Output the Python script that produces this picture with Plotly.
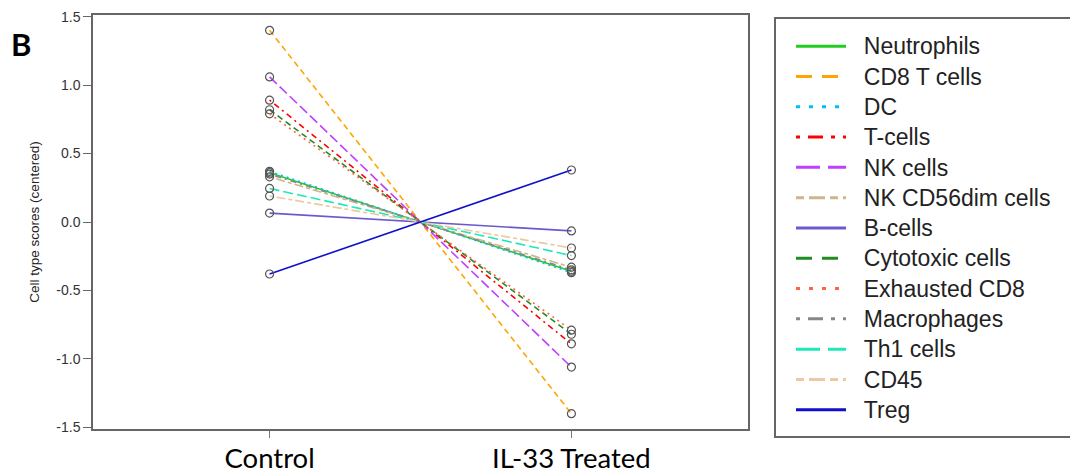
import plotly.graph_objects as go

groups = ["Control", "IL-33 Treated"]
cell_types = ["Neutrophils", "CD8 T cells", "DC", "T-cells", "NK cells",
              "NK CD56dim cells", "B-cells", "Cytotoxic cells", "Exhausted CD8",
              "Macrophages", "Th1 cells", "CD45", "Treg"]
control_scores = [0.36, 1.40, 0.37, 0.89, 1.06, 0.33, 0.065, 0.82, 0.79, 0.35, 0.245, 0.19, -0.38]
treated_scores = [-0.36, -1.40, -0.37, -0.89, -1.06, -0.33, -0.065, -0.82, -0.79, -0.35, -0.245, -0.19, 0.38]
y_ticks = [-1.5, -1.0, -0.5, 0.0, 0.5, 1.0, 1.5]
y_tick_labels = ["-1.5", "-1.0", "-0.5", "0.0", "0.5", "1.0", "1.5"]

colors = ["#22CC22", "#FFA500", "#00BFFF", "#FF0000", "#BF3EFF", "#D2B48C",
          "#6A5ACD", "#228B22", "#FF6347", "#888888", "#1DE9B6", "#EEC9A0", "#1010CC"]
# R lty cycle: solid, dashed, dotted, dotdash, longdash, twodash
plot_dash_cycle = ["solid", "6px,4px", "2px,4px", "2px,4px,6px,4px", "10px,4px", "4px,3px,9px,3px"]
legend_dash_cycle = ["solid", "16px,10px", "4px,9px", "4px,8px,15px,8px", "24px,8px", "8px,5px,16px,5px"]

fig = go.Figure()

for i, name in enumerate(cell_types):
    fig.add_trace(go.Scatter(
        x=groups, y=[control_scores[i], treated_scores[i]],
        mode="lines+markers", showlegend=False, name=name,
        line=dict(color=colors[i], width=1.6, dash=plot_dash_cycle[i % 6]),
        marker=dict(symbol="circle-open", size=8, color="#555555", line=dict(width=1.2)),
    ))

nb = "\u00a0\u00a0"
for i, name in enumerate(cell_types):
    fig.add_trace(go.Scatter(
        x=[None], y=[None], mode="lines", showlegend=True,
        name='<span style="font-size:23px">' + nb + name + "</span>",
        line=dict(color=colors[i], width=3, dash=legend_dash_cycle[i % 6]),
    ))

# page body has an 8px margin; build the figure in page coordinates minus 8
OFF = 8
W, H = 1078 - OFF, 476 - OFF
L, R, T, B = 85, 330, 7, 47
pw, ph = W - L - R, H - T - B

def fx(p):
    return (p - OFF - L) / pw

def fy(p):
    return (H - B - (p - OFF)) / ph

fig.add_shape(type="rect", xref="paper", yref="paper",
              x0=fx(775), x1=fx(1075), y0=fy(437), y1=fy(18),
              line=dict(color="#666666", width=2), fillcolor="rgba(0,0,0,0)")

fig.add_annotation(text="<b>B</b>", xref="paper", yref="paper",
                   x=fx(21), y=fy(44), xanchor="center", yanchor="middle", showarrow=False,
                   font=dict(family="Lato", size=31, color="#000000"))

fig.update_layout(
    width=W, height=H,
    margin=dict(l=L, r=R, t=T, b=B, autoexpand=False),
    paper_bgcolor="white", plot_bgcolor="white",
    showlegend=True,
    legend=dict(x=fx(791), y=fy(26), xanchor="left", yanchor="top",
                font=dict(family="Liberation Sans", size=21, color="#222222"),
                bgcolor="rgba(0,0,0,0)", borderwidth=0, itemwidth=50,
                tracegroupgap=0, maxheight=470),
    xaxis=dict(range=[-0.585, 1.585], showgrid=False, zeroline=False, automargin=False,
               showline=True, mirror=True, linecolor="#666666", linewidth=1.5,
               ticks="outside", ticklen=7, tickcolor="#777777", tickwidth=1.2,
               tickfont=dict(family="Lato", size=27.5, color="#000000"),
               ticklabelstandoff=-3),
    yaxis=dict(range=[-1.512, 1.512], showgrid=False, zeroline=False, automargin=False,
               showline=True, mirror=True, linecolor="#666666", linewidth=1.5,
               ticks="outside", ticklen=8, tickcolor="#666666", tickwidth=1.2,
               tickvals=y_ticks, ticktext=y_tick_labels,
               tickfont=dict(family="Liberation Sans", size=14, color="#333333"),
               title=dict(text="Cell type scores (centered)", standoff=14,
                          font=dict(family="Liberation Sans", size=13.5, color="#222222"))),
)

fig.write_html("out.html")
